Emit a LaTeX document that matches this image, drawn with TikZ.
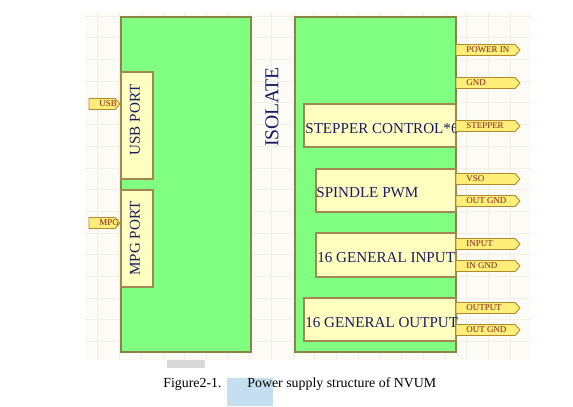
\documentclass[tikz,border=0pt]{standalone}
\usepackage{fontspec}
\setmainfont{Liberation Serif}

\definecolor{paper}{HTML}{FDFBF6}
\definecolor{gridcol}{HTML}{F3EFE6}
\definecolor{boardgreen}{HTML}{80FF80}
\definecolor{boardedge}{HTML}{8A8446}
\definecolor{blockfill}{HTML}{FFFFC0}
\definecolor{blockedge}{HTML}{A08850}
\definecolor{portfill}{HTML}{FFEE77}
\definecolor{portedge}{HTML}{B08A30}
\definecolor{navy}{HTML}{1A1A66}
\definecolor{portred}{HTML}{802020}
\definecolor{graybar}{HTML}{D9D9D9}
\definecolor{bluebar}{HTML}{C5DFF0}

\tikzset{
  board/.style={draw=boardedge, fill=boardgreen, line width=0.6pt},
  block/.style={draw=blockedge, fill=blockfill, line width=0.6pt},
  port/.style={draw=portedge, fill=portfill, line width=0.5pt},
  gridline/.style={draw=gridcol, line width=0.3pt},
  blocktext/.style={text=navy, font=\fontsize{8.6}{10}\selectfont, inner sep=0pt},
  porttext/.style={text=portred, font=\fontsize{5.1}{6}\selectfont, inner sep=0pt}
}

% name, x left, x tip, y middle, label
\newcommand{\porttag}[5]{%
  \draw[port] (#2,#4-5.5) -- (#3-5,#4-5.5) -- (#3,#4) -- (#3-5,#4+5.5) -- (#2,#4+5.5) -- cycle;
  \node[porttext, anchor=west] (#1) at (#2+10,#4) {#5};
}

\begin{document}
\begin{tikzpicture}[x=0.02cm, y=-0.02cm]
\useasboundingbox (0,0) rectangle (573,406);
\fill[white] (0,0) rectangle (573,406);

% background grid
\fill[paper] (85,12) rectangle (531,360);
\foreach \gx in {97.7,119.4,...,531}
  \draw[gridline] (\gx,12) -- (\gx,360);
\foreach \gy in {15.9,37.6,...,360}
  \draw[gridline] (85,\gy) -- (531,\gy);

% left board
\draw[board] (121,17) rectangle (251,352);
\draw[block] (121,72) rectangle (153,179);
\draw[block] (121,190) rectangle (153,287);
\node[blocktext, rotate=90] (usbport) at (135,120) {USB PORT};
\node[blocktext, rotate=90] (mpgport) at (135,238.5) {MPG PORT};

\porttag{usb}{89}{120}{104}{USB}
\porttag{mpg}{89}{120}{223}{MPG}

\node[text=navy, font=\fontsize{11.2}{13}\selectfont, inner sep=0pt, rotate=90] (isolate) at (272,107) {ISOLATE};

% right board
\draw[board] (295,17) rectangle (456,352);
\draw[block] (304,104) rectangle (456,147);
\draw[block] (316,169) rectangle (456,212);
\draw[block] (316,233) rectangle (456,277);
\draw[block] (304,298) rectangle (456,341);

\begin{scope}
\clip (300,100) rectangle (456.5,150);
\node[blocktext, anchor=base west] (stepper) at (305,133) {STEPPER CONTROL*6};
\end{scope}
\node[blocktext, anchor=base west] (spindle) at (316,197) {SPINDLE PWM};
\node[blocktext, anchor=base west] (ginput) at (317,262) {16 GENERAL INPUT};
\node[blocktext, anchor=base west] (goutput) at (305,327) {16 GENERAL OUTPUT};

\porttag{powerin}{456}{520}{50}{POWER IN}
\porttag{gnd}{456}{520}{83}{GND}
\porttag{stepperout}{456}{520}{126}{STEPPER}
\porttag{vso}{456}{520}{179}{VSO}
\porttag{outgnda}{456}{520}{201}{OUT GND}
\porttag{input}{456}{520}{244}{INPUT}
\porttag{ingnd}{456}{520}{266}{IN GND}
\porttag{output}{456}{520}{308}{OUTPUT}
\porttag{outgndb}{456}{520}{330}{OUT GND}

% caption
\fill[graybar] (167,360) rectangle (205,368);
\fill[bluebar] (227,378) rectangle (273,406);
\node[font=\fontsize{7.9}{9}\selectfont, inner sep=0pt, anchor=base west] (figno) at (163,387) {Figure2-1.};
\node[font=\fontsize{7.9}{9}\selectfont, inner sep=0pt, anchor=base west] (figcap) at (247,387) {Power supply structure of NVUM};
\end{tikzpicture}
\end{document}
